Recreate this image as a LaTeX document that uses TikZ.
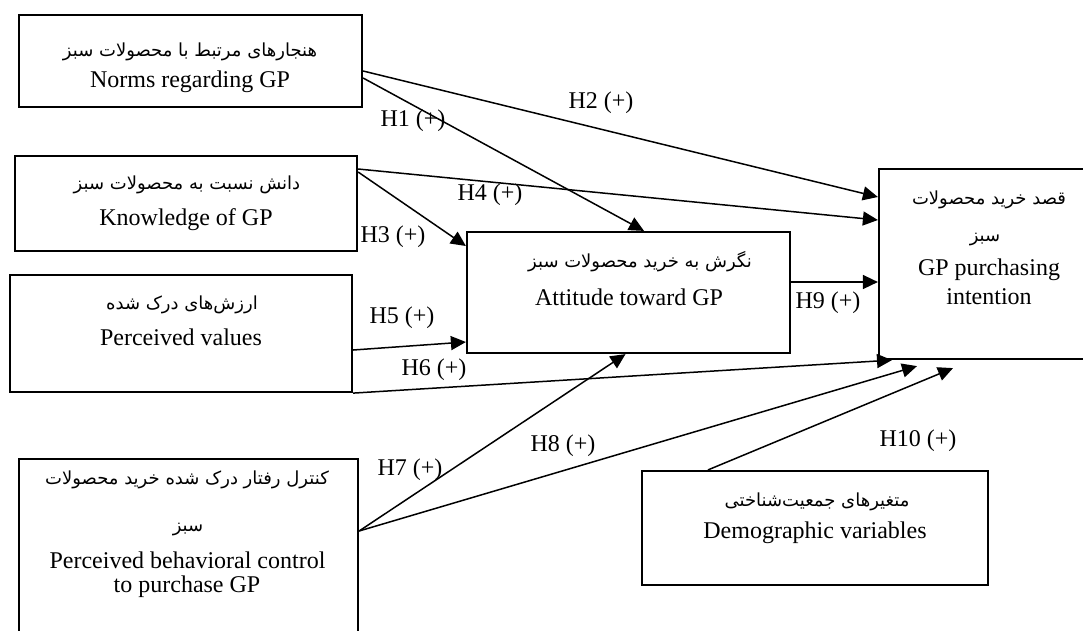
\documentclass[tikz,border=0pt]{standalone}
\usepackage{fontspec}
\setmainfont{Liberation Serif}
\newfontfamily\fa[Script=Arabic]{DejaVu Sans}
\TeXXeTstate=1
\usetikzlibrary{arrows.meta,calc}
\begin{document}
\begin{tikzpicture}[x=1pt,y=-1pt,
  box/.style={draw, line width=2.2pt, inner sep=0pt},
  entext/.style={font=\fontsize{24}{29}\selectfont, inner sep=0pt},
  fatext/.style={font=\fontsize{18}{22}\fa, inner sep=0pt},
  hlabel/.style={font=\fontsize{24}{29}\selectfont, inner sep=0pt},
  conn/.style={line width=1.5pt, -{Triangle[length=15pt,width=14pt]}}]
\useasboundingbox (0,0) rectangle (1083,630);
\clip (0,0) rectangle (1083,630);
% boxes
\node[box, minimum width=343pt, minimum height=92pt] (norms) at (190.5,61) {};
\node[box, minimum width=342pt, minimum height=95pt] (know) at (186,203.5) {};
\node[box, minimum width=342pt, minimum height=117pt] (values) at (181,333.5) {};
\node[box, minimum width=323pt, minimum height=121pt] (att) at (628.5,292.5) {};
\node[box, minimum width=220pt, minimum height=190pt] (intent) at (989,264) {};
\node[box, minimum width=339pt, minimum height=202pt] (pbc) at (188.5,560) {};
\node[box, minimum width=346pt, minimum height=114pt] (demo) at (815,528) {};
% texts
\node[fatext] (normsfa) at (190,52) {\beginR هنجارهای مرتبط با محصولات سبز\endR};
\node[entext] (normsen) at (190,82) {Norms regarding GP};
\node[fatext] (knowfa) at (187,185) {\beginR دانش نسبت به محصولات سبز\endR};
\node[entext] (knowen) at (186,220) {Knowledge of GP};
\node[fatext] (valuesfa) at (182,305) {\beginR ارزش‌های درک شده\endR};
\node[entext] (valuesen) at (181,337) {Perceived values};
\node[fatext] (attfa) at (640,262) {\beginR نگرش به خرید محصولات سبز\endR};
\node[entext] (atten) at (629,297) {Attitude toward GP};
\node[fatext] (intentfa) at (989,200) {\beginR قصد خرید محصولات\endR};
\node[fatext] (intentfb) at (985,240) {\beginR سبز\endR};
\node[entext] (intenten) at (989,270) {GP purchasing};
\node[entext] (intenteb) at (989,297) {intention};
\node[fatext] (pbcfa) at (187,480) {\beginR کنترل رفتار درک شده خرید محصولات\endR};
\node[fatext] (pbcfb) at (188,530) {\beginR سبز\endR};
\node[entext] (pbcen) at (187.5,560) {Perceived behavioral control};
\node[entext] (pbceb) at (187,587) {to purchase GP};
\node[fatext] (demofa) at (817,502) {\beginR متغیرهای جمعیت‌شناختی\endR};
\node[entext] (demoen) at (815,533) {Demographic variables};
% connectors
\draw[conn] ([yshift=-17pt]norms.east) -- ([xshift=15.5pt]att.north);
\draw[conn] ([yshift=-10pt]norms.east) -- ([yshift=67pt]intent.west);
\draw[conn] ([yshift=31.5pt]know.east) -- ([yshift=46.5pt]att.west);
\draw[conn] ([yshift=34.5pt]know.east) -- ([yshift=44pt]intent.west);
\draw[conn] ([yshift=-16.5pt]values.east) -- ([yshift=-49.5pt]att.west);
\draw[conn] (values.south east) -- ([xshift=-97pt]intent.south);
\draw[conn] ([yshift=29pt]pbc.east) -- ([xshift=-3pt]att.south);
\draw[conn] ([yshift=29pt]pbc.east) -- ([xshift=-72pt,yshift=-6pt]intent.south);
\draw[conn] ([xshift=-107pt]demo.north) -- ([xshift=-36pt,yshift=-8pt]intent.south);
\draw[conn] ([yshift=10.5pt]att.east) -- ([yshift=-18pt]intent.west);
% labels
\node[hlabel] (h1) at (413,121) {H1 (+)};
\node[hlabel] (h2) at (601,103) {H2 (+)};
\node[hlabel] (h3) at (393,237) {H3 (+)};
\node[hlabel] (h4) at (490,195) {H4 (+)};
\node[hlabel] (h5) at (402,318) {H5 (+)};
\node[hlabel] (h6) at (434,370) {H6 (+)};
\node[hlabel] (h7) at (410,470) {H7 (+)};
\node[hlabel] (h8) at (563,446) {H8 (+)};
\node[hlabel] (h9) at (828,303) {H9 (+)};
\node[hlabel] (h10) at (918,441) {H10 (+)};
\end{tikzpicture}
\end{document}
